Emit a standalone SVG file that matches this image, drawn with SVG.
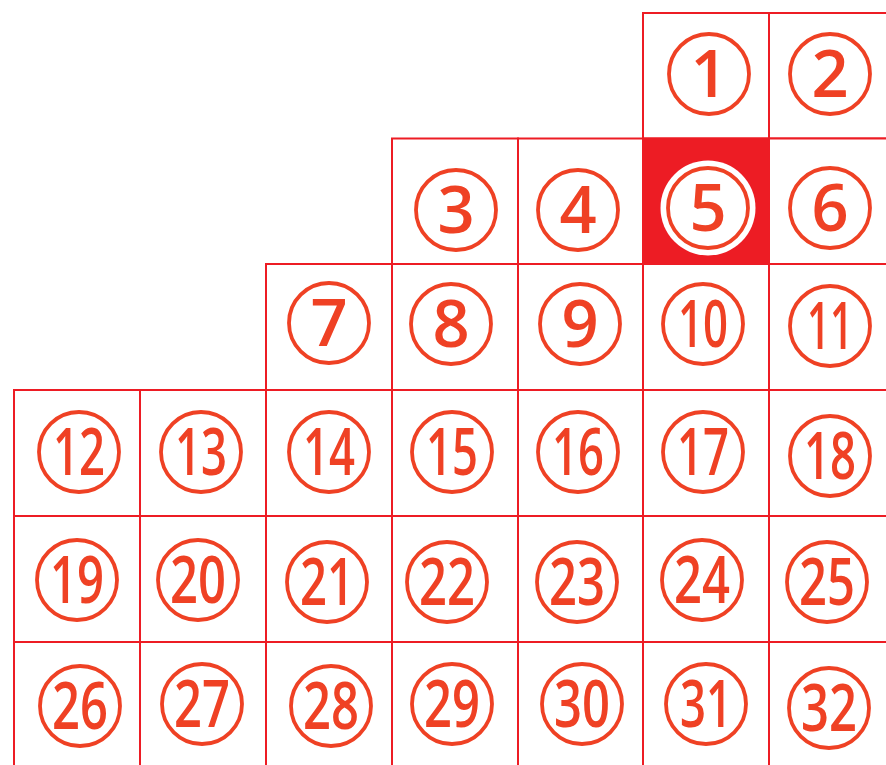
<svg xmlns="http://www.w3.org/2000/svg" width="886" height="765" viewBox="0 0 886 765">
<style>
.cell{fill:#fff;stroke:#ed1c24;stroke-width:2}
.hot{fill:#ed1c24;stroke:#ed1c24;stroke-width:2}
.ring{fill:none;stroke:#ef4124;stroke-width:3.8}
.num{fill:#ef4124;font-family:"Open Sans","Noto Sans",sans-serif;font-size:65px;font-weight:600;text-anchor:middle}
</style>
<rect width="886" height="765" fill="#fff"/>
<g id="grid">
<g id="n1"><rect class="cell" x="643" y="13" width="126" height="125.5"/><circle class="ring" cx="709" cy="74" r="40"/><text class="num" x="709" y="97">1</text></g>
<g id="n2"><rect class="cell" x="769" y="13" width="126" height="125.5"/><circle class="ring" cx="830" cy="74" r="40"/><text class="num" x="830" y="97">2</text></g>
<g id="n3"><rect class="cell" x="392" y="138.5" width="126" height="125.5"/><circle class="ring" cx="456" cy="210" r="40"/><text class="num" x="456" y="233">3</text></g>
<g id="n4"><rect class="cell" x="518" y="138.5" width="125" height="125.5"/><circle class="ring" cx="578" cy="210" r="40"/><text class="num" x="578" y="233">4</text></g>
<g id="n5"><rect class="hot" x="643" y="138.5" width="126" height="125.5"/><circle cx="708" cy="208" r="47.5" fill="#fff"/><circle class="ring" cx="708" cy="208" r="40"/><text class="num" x="708" y="231">5</text></g>
<g id="n6"><rect class="cell" x="769" y="138.5" width="126" height="125.5"/><circle class="ring" cx="830" cy="208" r="40"/><text class="num" x="830" y="231">6</text></g>
<g id="n7"><rect class="cell" x="266" y="264" width="126" height="126"/><circle class="ring" cx="329" cy="323" r="40"/><text class="num" x="329" y="346">7</text></g>
<g id="n8"><rect class="cell" x="392" y="264" width="126" height="126"/><circle class="ring" cx="451" cy="324" r="40"/><text class="num" x="451" y="347">8</text></g>
<g id="n9"><rect class="cell" x="518" y="264" width="125" height="126"/><circle class="ring" cx="580" cy="324" r="40"/><text class="num" x="580" y="347">9</text></g>
<g id="n10"><rect class="cell" x="643" y="264" width="126" height="126"/><circle class="ring" cx="703" cy="324" r="40"/><text class="num" x="703" y="347" textLength="50" lengthAdjust="spacingAndGlyphs">10</text></g>
<g id="n11"><rect class="cell" x="769" y="264" width="126" height="126"/><circle class="ring" cx="830" cy="326" r="40"/><text class="num" x="830" y="349" textLength="46" lengthAdjust="spacingAndGlyphs">11</text></g>
<g id="n12"><rect class="cell" x="14" y="390" width="126" height="126"/><circle class="ring" cx="79" cy="452" r="40"/><text class="num" x="79" y="475" textLength="52" lengthAdjust="spacingAndGlyphs">12</text></g>
<g id="n13"><rect class="cell" x="140" y="390" width="126" height="126"/><circle class="ring" cx="201" cy="452" r="40"/><text class="num" x="201" y="475" textLength="52" lengthAdjust="spacingAndGlyphs">13</text></g>
<g id="n14"><rect class="cell" x="266" y="390" width="126" height="126"/><circle class="ring" cx="329" cy="452" r="40"/><text class="num" x="329" y="475" textLength="52" lengthAdjust="spacingAndGlyphs">14</text></g>
<g id="n15"><rect class="cell" x="392" y="390" width="126" height="126"/><circle class="ring" cx="452" cy="452" r="40"/><text class="num" x="452" y="475" textLength="52" lengthAdjust="spacingAndGlyphs">15</text></g>
<g id="n16"><rect class="cell" x="518" y="390" width="125" height="126"/><circle class="ring" cx="578" cy="452" r="40"/><text class="num" x="578" y="475" textLength="52" lengthAdjust="spacingAndGlyphs">16</text></g>
<g id="n17"><rect class="cell" x="643" y="390" width="126" height="126"/><circle class="ring" cx="703" cy="452" r="40"/><text class="num" x="703" y="475" textLength="52" lengthAdjust="spacingAndGlyphs">17</text></g>
<g id="n18"><rect class="cell" x="769" y="390" width="126" height="126"/><circle class="ring" cx="830" cy="456" r="40"/><text class="num" x="830" y="479" textLength="52" lengthAdjust="spacingAndGlyphs">18</text></g>
<g id="n19"><rect class="cell" x="14" y="516" width="126" height="126"/><circle class="ring" cx="77" cy="580" r="40"/><text class="num" x="77" y="603" textLength="54" lengthAdjust="spacingAndGlyphs">19</text></g>
<g id="n20"><rect class="cell" x="140" y="516" width="126" height="126"/><circle class="ring" cx="198" cy="580" r="40"/><text class="num" x="198" y="603" textLength="56" lengthAdjust="spacingAndGlyphs">20</text></g>
<g id="n21"><rect class="cell" x="266" y="516" width="126" height="126"/><circle class="ring" cx="327" cy="582" r="40"/><text class="num" x="327" y="605" textLength="54" lengthAdjust="spacingAndGlyphs">21</text></g>
<g id="n22"><rect class="cell" x="392" y="516" width="126" height="126"/><circle class="ring" cx="447" cy="582" r="40"/><text class="num" x="447" y="605" textLength="56" lengthAdjust="spacingAndGlyphs">22</text></g>
<g id="n23"><rect class="cell" x="518" y="516" width="125" height="126"/><circle class="ring" cx="577" cy="582" r="40"/><text class="num" x="577" y="605" textLength="56" lengthAdjust="spacingAndGlyphs">23</text></g>
<g id="n24"><rect class="cell" x="643" y="516" width="126" height="126"/><circle class="ring" cx="702" cy="580" r="40"/><text class="num" x="702" y="603" textLength="56" lengthAdjust="spacingAndGlyphs">24</text></g>
<g id="n25"><rect class="cell" x="769" y="516" width="126" height="126"/><circle class="ring" cx="827" cy="582" r="40"/><text class="num" x="827" y="605" textLength="56" lengthAdjust="spacingAndGlyphs">25</text></g>
<g id="n26"><rect class="cell" x="14" y="642" width="126" height="126"/><circle class="ring" cx="80" cy="706" r="40"/><text class="num" x="80" y="729" textLength="56" lengthAdjust="spacingAndGlyphs">26</text></g>
<g id="n27"><rect class="cell" x="140" y="642" width="126" height="126"/><circle class="ring" cx="202" cy="704" r="40"/><text class="num" x="202" y="727" textLength="56" lengthAdjust="spacingAndGlyphs">27</text></g>
<g id="n28"><rect class="cell" x="266" y="642" width="126" height="126"/><circle class="ring" cx="331" cy="706" r="40"/><text class="num" x="331" y="729" textLength="56" lengthAdjust="spacingAndGlyphs">28</text></g>
<g id="n29"><rect class="cell" x="392" y="642" width="126" height="126"/><circle class="ring" cx="452" cy="704" r="40"/><text class="num" x="452" y="727" textLength="56" lengthAdjust="spacingAndGlyphs">29</text></g>
<g id="n30"><rect class="cell" x="518" y="642" width="125" height="126"/><circle class="ring" cx="582" cy="704" r="40"/><text class="num" x="582" y="727" textLength="56" lengthAdjust="spacingAndGlyphs">30</text></g>
<g id="n31"><rect class="cell" x="643" y="642" width="126" height="126"/><circle class="ring" cx="706" cy="704" r="40"/><text class="num" x="706" y="727" textLength="52" lengthAdjust="spacingAndGlyphs">31</text></g>
<g id="n32"><rect class="cell" x="769" y="642" width="126" height="126"/><circle class="ring" cx="829" cy="708" r="40"/><text class="num" x="829" y="731" textLength="56" lengthAdjust="spacingAndGlyphs">32</text></g>
</g>
<g id="connectors"/>
</svg>
